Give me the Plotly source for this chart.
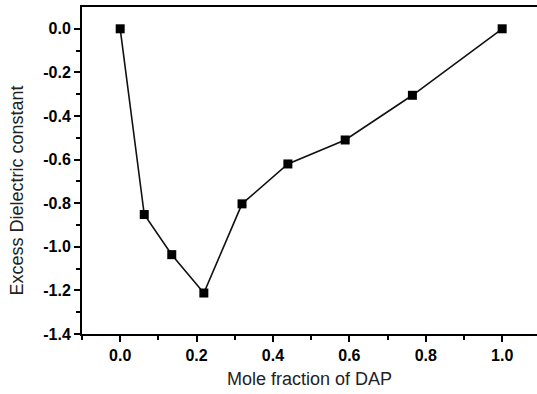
import plotly.graph_objects as go

# Data
mole_fraction = [0.0, 0.063, 0.135, 0.219, 0.319, 0.439, 0.589, 0.765, 1.0]
excess_dielectric = [0.0, -0.852, -1.036, -1.212, -0.803, -0.620, -0.510, -0.305, 0.0]

x_tick_vals = [0.0, 0.2, 0.4, 0.6, 0.8, 1.0]
x_tick_text = ["0.0", "0.2", "0.4", "0.6", "0.8", "1.0"]
x_minor_vals = [-0.1, 0.1, 0.3, 0.5, 0.7, 0.9]
y_tick_vals = [0.0, -0.2, -0.4, -0.6, -0.8, -1.0, -1.2, -1.4]
y_tick_text = ["0.0", "-0.2", "-0.4", "-0.6", "-0.8", "-1.0", "-1.2", "-1.4"]
y_minor_vals = [-0.1, -0.3, -0.5, -0.7, -0.9, -1.1, -1.3]
x_title = "Mole fraction of DAP"
y_title = "Excess Dielectric constant"

fig = go.Figure()
fig.add_trace(go.Scatter(
    x=mole_fraction, y=excess_dielectric,
    mode="lines+markers",
    line=dict(color="#111111", width=1.6),
    marker=dict(symbol="square", size=9, color="black", line=dict(width=0)),
    showlegend=False,
))

tickfont = dict(family="Liberation Sans, Arial, sans-serif", size=16, color="black", weight="bold")
titlefont = dict(family="Liberation Sans, Arial, sans-serif", size=18, color="#222222")

fig.update_layout(
    width=537, height=394,
    margin=dict(l=82, r=0, t=7, b=60),
    paper_bgcolor="white", plot_bgcolor="white",
    xaxis=dict(
        range=[-0.1, 1.0912],
        tickmode="array", tickvals=x_tick_vals, ticktext=x_tick_text,
        ticks="outside", ticklen=6, tickwidth=1.5, tickcolor="black",
        minor=dict(tickmode="array", tickvals=x_minor_vals, ticks="outside",
                   ticklen=4, tickwidth=1.5, tickcolor="black", showgrid=False),
        showline=True, linecolor="black", linewidth=2, mirror=True,
        showgrid=False, zeroline=False,
        tickfont=tickfont,
        title=dict(text=x_title, font=titlefont, standoff=9),
    ),
    yaxis=dict(
        range=[-1.4, 0.1],
        tickmode="array", tickvals=y_tick_vals, ticktext=y_tick_text,
        ticks="outside", ticklen=6, tickwidth=1.5, tickcolor="black",
        minor=dict(tickmode="array", tickvals=y_minor_vals, ticks="outside",
                   ticklen=4, tickwidth=1.5, tickcolor="black", showgrid=False),
        showline=True, linecolor="black", linewidth=2, mirror=False,
        showgrid=False, zeroline=False,
        tickfont=tickfont,
    ),
    annotations=[dict(
        text=y_title, textangle=-90, font=titlefont,
        xref="paper", yref="paper", x=-0.1418, y=0.44,
        xanchor="center", yanchor="middle", showarrow=False,
    )],
)

fig.write_html(
    "out.html",
    config={"displayModeBar": False},
    post_script="document.body.style.margin='0';document.body.style.overflow='hidden';",
)
